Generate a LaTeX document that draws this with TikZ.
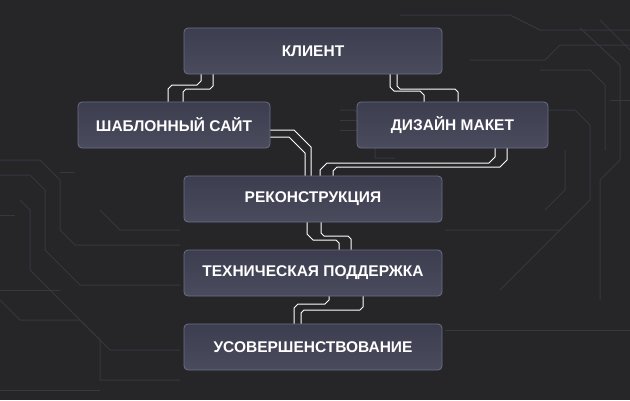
\documentclass[tikz,border=0pt]{standalone}
\usepackage{fontspec}
\setmainfont{Liberation Sans}
\begin{document}
\begin{tikzpicture}[x=1pt,y=-1pt,
  box/.style={draw=boxline,line width=0.8pt,rounded corners=4pt,top color=boxtop,bottom color=boxbot,minimum height=46pt,inner sep=0pt,font=\bfseries\fontsize{15.5}{17}\selectfont,text=white!93},
  wa/.style={draw=white!92,line width=1pt},
  wb/.style={draw=white!70,line width=1pt},
  bg/.style={draw=bgline,line width=1pt}]
\definecolor{bgc}{HTML}{262628}
\definecolor{boxline}{HTML}{6A6E88}
\definecolor{boxtop}{HTML}{3C3D4E}
\definecolor{boxbot}{HTML}{4A4C5E}
\definecolor{bgline}{HTML}{363741}
\fill[bgc] (0,0) rectangle (630,400);
\useasboundingbox (0,0) rectangle (630,400);
% background traces
\draw[bg] (630,30) -- (540,30) -- (510,15) -- (400,15);
\draw[bg] (630,45) -- (560,45) -- (545,60) -- (470,60);
\draw[bg] (600,20) -- (630,50);
\draw[bg] (580,28) -- (620,65) -- (620,160) -- (600,180) -- (600,300);
\draw[bg] (540,70) -- (590,70) -- (605,85) -- (605,150);
\draw[bg] (525,110) -- (575,110) -- (590,125) -- (590,200) -- (560,230) -- (445,230);
\draw[bg] (340,120) -- (360,120) (340,130) -- (360,130);
\draw[bg] (340,110) -- (355,110) -- (375,135) -- (375,158) -- (395,158);
\draw[bg] (565,150) -- (565,190) -- (545,210);
\draw[bg] (630,100) -- (610,100);
\draw[bg] (0,160) -- (40,160) -- (60,180) -- (60,230) -- (75,245) -- (180,245);
\draw[bg] (0,175) -- (30,175) -- (45,190) -- (45,250) -- (80,285) -- (180,285);
\draw[bg] (20,200) -- (30,210) -- (30,270) -- (100,340) -- (100,380) -- (180,380);
\draw[bg] (0,300) -- (20,320) -- (80,320) -- (110,350) -- (180,350);
\draw[bg] (0,290) -- (60,290);
\draw[bg] (60,172) -- (75,172);
\draw[bg] (0,215) -- (15,215);
\draw[bg] (100,210) -- (120,230) -- (180,230);
\draw[bg] (445,330) -- (630,330);
\draw[bg] (500,290) -- (560,230);
\draw[bg] (0,390) -- (100,390);
% boxes
\node[box,minimum width=258pt] (k) at (313,51) {КЛИЕНТ};
\node[box,minimum width=192pt] (s) at (174,125) {ШАБЛОННЫЙ САЙТ};
\node[box,minimum width=191pt] (d) at (452.5,125) {ДИЗАЙН МАКЕТ};
\node[box,minimum width=258pt] (r) at (313,199) {РЕКОНСТРУКЦИЯ};
\node[box,minimum width=258pt] (t) at (313,273) {ТЕХНИЧЕСКАЯ ПОДДЕРЖКА};
\node[box,minimum width=258pt] (u) at (313,347) {УСОВЕРШЕНСТВОВАНИЕ};
% wires
\draw[wb] (k.south -| 201,0) -- (201,81) -- (197,85) -- (172,85) -- (168,89) -- (s.north -| 168,0);
\draw[wa] (k.south -| 213,0) -- (213,86) -- (210,89) -- (186,89) -- (183,92) -- (s.north -| 183,0);
\draw[wb] (k.south -| 390,0) -- (390,87) -- (394,91) -- (420,91) -- (424,95) -- (d.north -| 424,0);
\draw[wa] (k.south -| 397,0) -- (397,86) -- (400,89) -- (455,89) -- (458,92) -- (d.north -| 458,0);
\draw[wa] (s.east |- 0,130) -- (294,130) -- (311,147) -- (r.north -| 311,0);
\draw[wb] (s.east |- 0,137) -- (289,137) -- (305,153) -- (r.north -| 305,0);
\draw[wb] (d.south -| 495,0) -- (495,157) -- (489,163) -- (327,163) -- (320,170) -- (r.north -| 320,0);
\draw[wa] (d.south -| 507,0) -- (507,160) -- (500,167) -- (337,167) -- (333,171) -- (r.north -| 333,0);
\draw[wb] (r.south -| 307,0) -- (307,234) -- (313,240) -- (336,240) -- (339,243) -- (t.north -| 339,0);
\draw[wa] (r.south -| 321,0) -- (321,233) -- (324,236) -- (348,236) -- (351,239) -- (t.north -| 351,0);
\draw[wa] (t.south -| 363,0) -- (363,307) -- (360,310) -- (304,310) -- (301,313) -- (u.north -| 301,0);
\draw[wb] (t.south -| 329,0) -- (329,300) -- (325,304) -- (298,304) -- (294,308) -- (u.north -| 294,0);
\end{tikzpicture}
\end{document}
